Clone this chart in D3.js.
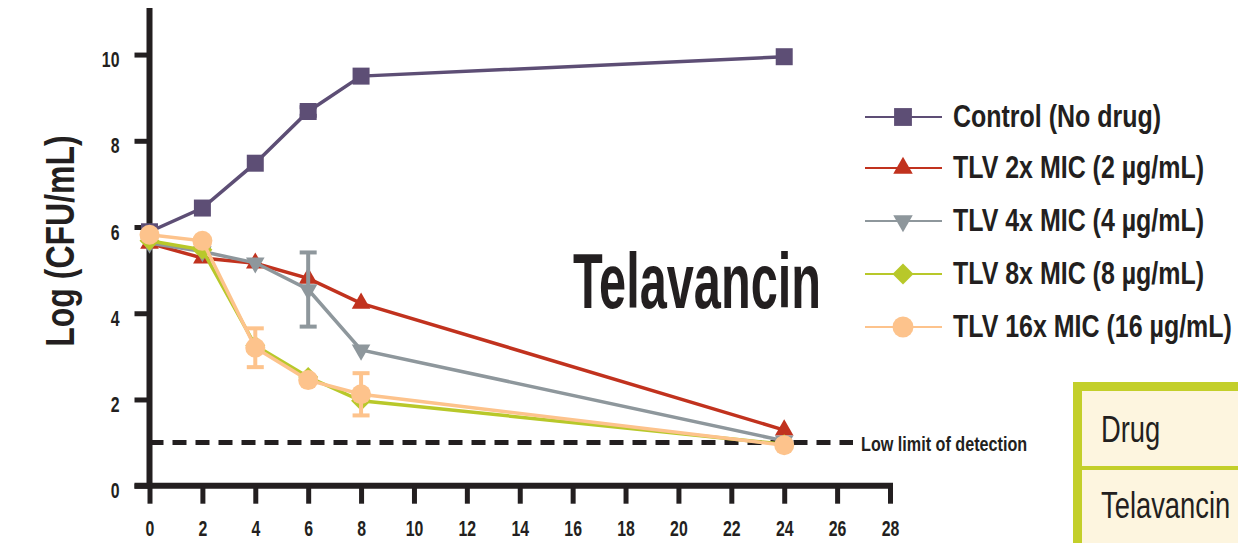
<!DOCTYPE html>
<html>
<head>
    <meta charset="utf-8">
    <title>Telavancin</title>
    <script src="https://d3js.org/d3.v7.min.js"></script>
    <style>
        body { margin: 0; background: #fff; }
        text { font-family: "Liberation Sans", Arial, sans-serif; fill: #231f20; }
        .bold { font-weight: bold; }
    </style>
</head>
<body>
<div id="chart"></div>
<script>
    // Data
    const hours = [0, 2, 4, 6, 8, 24];
    const labels = ["Control (No drug)", "TLV 2x MIC (2 \u00b5g/mL)", "TLV 4x MIC (4 \u00b5g/mL)",
                    "TLV 8x MIC (8 \u00b5g/mL)", "TLV 16x MIC (16 \u00b5g/mL)"];
    const control = [5.89, 6.44, 7.48, 8.68, 9.50, 9.95];
    const tlv2x   = [5.62, 5.28, 5.16, 4.81, 4.23, 1.29];
    const tlv4x   = [5.63, 5.43, 5.17, 4.55, 3.15, 1.04];
    const tlv8x   = [5.68, 5.47, 3.25, 2.52, 1.97, 0.96];
    const tlv16x  = [5.82, 5.68, 3.20, 2.45, 2.12, 0.94];
    const errControl = [0, 0, 0, 0.1, 0, 0];
    const err4x  = [0, 0, 0, 0.86, 0, 0];
    const err16x = [0, 0, 0.45, 0, 0.49, 0];
    const xTicks = [0, 2, 4, 6, 8, 10, 12, 14, 16, 18, 20, 22, 24, 26, 28];
    const yTicks = [0, 2, 4, 6, 8, 10];
    const detectionLimit = 1;
    const tableRows = ["Drug", "Telavancin"];

    const W = 1238, H = 543;
    const svg = d3.select("#chart").append("svg")
        .attr("width", W).attr("height", H);

    // squeeze text horizontally, the original uses a condensed face
    function condense(sel, f) {
        sel.each(function () {
            const w = this.getComputedTextLength();
            d3.select(this).attr("textLength", w * f).attr("lengthAdjust", "spacingAndGlyphs");
        });
    }

    const x = d3.scaleLinear().domain([0, 28]).range([149.5, 890]);
    const y = d3.scaleLinear().domain([0, 11.08]).range([485.7, 8]);

    const series = [
        {name: labels[0], values: control, err: errControl, color: "#5d4e75", symbol: d3.symbolSquare, size: 289, rot: 0},
        {name: labels[1], values: tlv2x, err: null, color: "#c1321e", symbol: d3.symbolTriangle, size: 150, rot: 0},
        {name: labels[2], values: tlv4x, err: err4x, color: "#8e979c", symbol: d3.symbolTriangle, size: 150, rot: 180},
        {name: labels[3], values: tlv8x, err: null, color: "#b8c82a", symbol: d3.symbolSquare, size: 200, rot: 45},
        {name: labels[4], values: tlv16x, err: err16x, color: "#fdc38c", symbol: d3.symbolCircle, size: 314, rot: 0}
    ];

    // Table in the corner
    const table = svg.append("g");
    table.append("rect")
        .attr("x", 1077.5).attr("y", 386.5).attr("width", 200).attr("height", 200)
        .attr("fill", "#fdf5df").attr("stroke", "#c3cf2a").attr("stroke-width", 9);
    table.append("line")
        .attr("x1", 1077).attr("x2", 1238).attr("y1", 468).attr("y2", 468)
        .attr("stroke", "#c3cf2a").attr("stroke-width", 4);
    table.selectAll("text.cell").data(tableRows).enter().append("text")
        .attr("class", "cell")
        .attr("x", 1101).attr("y", (d, i) => i === 0 ? 442 : 518)
        .style("font-size", "36px")
        .text(d => d)
        .call(condense, 0.76);

    // Detection limit
    svg.append("line")
        .attr("x1", x(0)).attr("x2", 853)
        .attr("y1", y(detectionLimit)).attr("y2", y(detectionLimit))
        .attr("stroke", "#231f20").attr("stroke-width", 5)
        .attr("stroke-dasharray", "14,9");
    svg.append("text").attr("class", "bold")
        .attr("x", 861).attr("y", y(detectionLimit) + 8)
        .style("font-size", "21px")
        .text("Low limit of detection")
        .call(condense, 0.77);

    // Axes
    const yAxis = svg.append("g")
        .attr("transform", "translate(" + x(0) + ",0)")
        .call(d3.axisLeft(y).tickValues(yTicks).tickSize(15).tickPadding(15).tickSizeOuter(0));
    yAxis.select(".domain").remove();
    yAxis.selectAll(".tick line").attr("stroke", "#231f20").attr("stroke-width", 5);
    yAxis.selectAll(".tick text").attr("class", "bold").style("font-size", "22px")
        .style("font-family", "'Liberation Sans', Arial, sans-serif")
        .attr("dy", "0.55em").attr("fill", "#231f20")
        .call(condense, 0.72);

    const xAxis = svg.append("g")
        .attr("transform", "translate(0," + y(0) + ")")
        .call(d3.axisBottom(x).tickValues(xTicks).tickSize(18).tickPadding(17).tickSizeOuter(0));
    xAxis.select(".domain").remove();
    xAxis.selectAll(".tick line").attr("stroke", "#231f20").attr("stroke-width", 5);
    xAxis.selectAll(".tick text").attr("class", "bold").style("font-size", "22px")
        .style("font-family", "'Liberation Sans', Arial, sans-serif")
        .attr("fill", "#231f20")
        .call(condense, 0.72);

    svg.append("line")
        .attr("x1", x(0)).attr("x2", x(0)).attr("y1", y(11.08)).attr("y2", y(0) + 2.5)
        .attr("stroke", "#231f20").attr("stroke-width", 6);
    svg.append("line")
        .attr("x1", x(0) - 15).attr("x2", 893).attr("y1", y(0)).attr("y2", y(0))
        .attr("stroke", "#231f20").attr("stroke-width", 6);

    svg.append("text").attr("class", "bold")
        .attr("transform", "translate(74,241) rotate(-90)")
        .attr("text-anchor", "middle")
        .style("font-size", "40px")
        .text("Log (CFU/mL)")
        .call(condense, 0.8);

    svg.append("text").attr("class", "bold")
        .attr("x", 573).attr("y", 308)
        .attr("textLength", 248).attr("lengthAdjust", "spacingAndGlyphs")
        .style("font-size", "78px")
        .text("Telavancin");

    // Series
    const line = d3.line().x((d, i) => x(hours[i])).y(d => y(d));
    series.forEach(s => {
        const g = svg.append("g");
        g.append("path").datum(s.values)
            .attr("d", line)
            .attr("fill", "none").attr("stroke", s.color).attr("stroke-width", 3.5);
        if (s.err) {
            const eb = g.selectAll(".err").data(s.values.map((v, i) => ({v, e: s.err[i], h: hours[i]})).filter(d => d.e > 0))
                .enter().append("g").attr("stroke", s.color).attr("stroke-width", 4);
            eb.append("line").attr("x1", d => x(d.h)).attr("x2", d => x(d.h))
                .attr("y1", d => y(d.v + d.e)).attr("y2", d => y(d.v - d.e));
            eb.append("line").attr("x1", d => x(d.h) - 8.5).attr("x2", d => x(d.h) + 8.5)
                .attr("y1", d => y(d.v + d.e)).attr("y2", d => y(d.v + d.e));
            eb.append("line").attr("x1", d => x(d.h) - 8.5).attr("x2", d => x(d.h) + 8.5)
                .attr("y1", d => y(d.v - d.e)).attr("y2", d => y(d.v - d.e));
        }
        g.selectAll(".mark").data(s.values).enter().append("path")
            .attr("d", d3.symbol().type(s.symbol).size(s.size))
            .attr("transform", (d, i) => "translate(" + x(hours[i]) + "," + y(d) + ") rotate(" + s.rot + ")")
            .attr("fill", s.color);
    });

    // Legend
    const legend = svg.append("g");
    const rowY = [117, 168, 221, 274, 327];
    series.forEach((s, i) => {
        legend.append("line")
            .attr("x1", 865).attr("x2", 942).attr("y1", rowY[i]).attr("y2", rowY[i])
            .attr("stroke", s.color).attr("stroke-width", 1.8);
        legend.append("path")
            .attr("d", d3.symbol().type(s.symbol).size(s.size * 1.1))
            .attr("transform", "translate(903," + rowY[i] + ") rotate(" + s.rot + ")")
            .attr("fill", s.color);
        legend.append("text").attr("class", "bold")
            .attr("x", 953).attr("y", rowY[i] + 10)
            .style("font-size", "32px")
            .text(s.name)
            .call(condense, 0.78);
    });
</script>
</body>
</html>
